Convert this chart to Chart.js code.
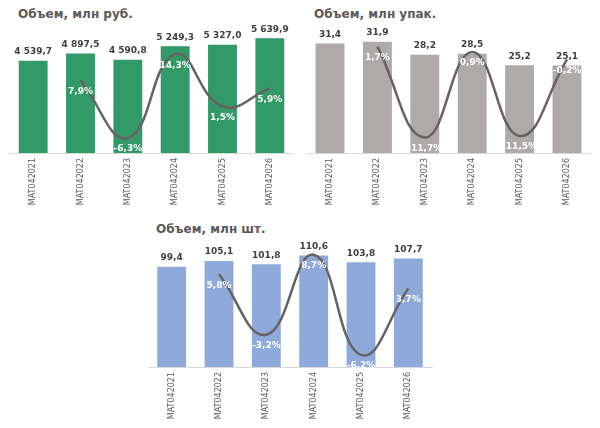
<!DOCTYPE html>
<html><head><meta charset="utf-8">
<script src="https://cdn.jsdelivr.net/npm/chart.js@4/dist/chart.umd.min.js"></script>
<style>
html,body{margin:0;padding:0;background:#fff;}
body{width:600px;height:428px;position:relative;overflow:hidden;font-family:"DejaVu Sans",Verdana,sans-serif;}
.box{position:absolute;}
.ttl{position:absolute;font-weight:bold;font-size:12px;line-height:14px;color:#595959;white-space:nowrap;}
</style></head><body>
<div class="ttl" style="left:18px;top:7px;">Объем, млн руб.</div>
<div class="ttl" style="left:314px;top:7px;">Объем, млн упак.</div>
<div class="ttl" style="left:156px;top:222px;">Объем, млн шт.</div>
<div class="box" style="left:0;top:0;width:300px;height:210px;"><canvas id="c1"></canvas></div>
<div class="box" style="left:300px;top:0;width:300px;height:210px;"><canvas id="c2"></canvas></div>
<div class="box" style="left:138px;top:210px;width:300px;height:218px;"><canvas id="c3"></canvas></div>
<script>
const categories = ['MAT042021','MAT042022','MAT042023','MAT042024','MAT042025','MAT042026'];
const rubValues = [4539.7, 4897.5, 4590.8, 5249.3, 5327.0, 5639.9];
const rubGrowth = [null, 7.9, -6.3, 14.3, 1.5, 5.9];
const packValues = [31.4, 31.9, 28.2, 28.5, 25.2, 25.1];
const packGrowth = [null, 1.7, -11.7, 0.9, -11.5, -0.2];
const unitValues = [99.4, 105.1, 101.8, 110.6, 103.8, 107.7];
const unitGrowth = [null, 5.8, -3.2, 8.7, -6.2, 3.7];

function fmtNum(v){
  const s = v.toFixed(1).split('.');
  const int = s[0].replace(/\B(?=(\d{3})+(?!\d))/g, ' ');
  return int + ',' + s[1];
}
function fmtPct(v){ return v.toFixed(1).replace('.', ',') + '%'; }

const labelPlugin = {
  id: 'labels',
  afterDatasetsDraw(chart){
    const ctx = chart.ctx;
    ctx.save();
    ctx.textAlign = 'center';
    ctx.textBaseline = 'middle';
    const barMeta = chart.getDatasetMeta(1);
    ctx.font = 'bold 9px "DejaVu Sans", Verdana, sans-serif';
    ctx.fillStyle = '#404040';
    barMeta.data.forEach((el, i) => {
      const v = chart.data.datasets[1].data[i];
      ctx.fillText(fmtNum(v), el.x, el.y - 9);
    });
    const lineMeta = chart.getDatasetMeta(0);
    ctx.font = 'bold 9px "DejaVu Sans", Verdana, sans-serif';
    ctx.fillStyle = '#ffffff';
    lineMeta.data.forEach((el, i) => {
      const v = chart.data.datasets[0].data[i];
      if (v === null || v === undefined) return;
      ctx.fillText(fmtPct(v), el.x, el.y + 11);
    });
    ctx.restore();
  }
};

function makeChart(id, values, growth, color, yMax, gMin, gMax, pad, axisH){
  new Chart(document.getElementById(id), {
    type: 'bar',
    data: {
      labels: categories,
      datasets: [
        { type: 'line', data: growth, yAxisID: 'y1', borderColor: '#666262', borderWidth: 2.5,
          pointRadius: 0, tension: 0.45, order: 0, fill: false },
        { type: 'bar', data: values, yAxisID: 'y', backgroundColor: color,
          borderWidth: 0, barPercentage: 0.61, categoryPercentage: 1, order: 1 }
      ]
    },
    options: {
      responsive: true, maintainAspectRatio: false, animation: false,
      devicePixelRatio: 1,
      layout: { padding: pad },
      plugins: { legend: { display: false }, tooltip: { enabled: false }, title: { display: false } },
      scales: {
        x: {
          grid: { display: false, drawTicks: false },
          border: { display: true, color: '#d9d9d9', width: 1 },
          ticks: { maxRotation: 90, minRotation: 90, padding: 5, color: '#595959',
                   font: { family: '"DejaVu Sans", Verdana, sans-serif', size: 8 } },
          afterFit(s){ s.height = axisH; }
        },
        y: { display: false, min: 0, max: yMax },
        y1: { display: false, position: 'right', min: gMin, max: gMax }
      }
    },
    plugins: [labelPlugin]
  });
}

makeChart('c1', rubValues, rubGrowth, '#329a66', 6000, -10, 20, {left: 9.5, right: 6.5, top: 31, bottom: 0}, 57);
makeChart('c2', packValues, packGrowth, '#aeaaaa', 35, -14, 4, {left: 6.3, right: 9.3, top: 31, bottom: 0}, 57);
makeChart('c3', unitValues, unitGrowth, '#8eaadb', 120, -8, 10, {left: 10, right: 6, top: 36, bottom: 0}, 61);
</script>
</body></html>
